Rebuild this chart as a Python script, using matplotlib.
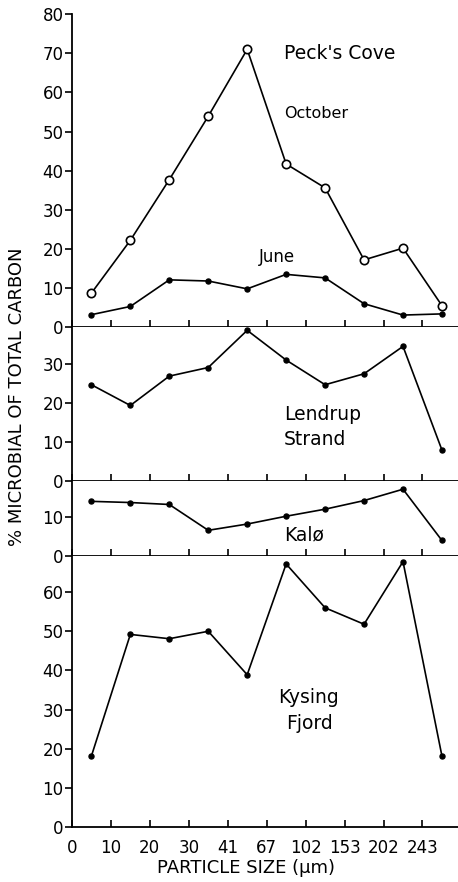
import matplotlib
matplotlib.use("Agg")
import matplotlib.pyplot as plt

# particle size classes (um), plotted at category midpoints
size_ticks = ["0", "10", "20", "30", "41", "67", "102", "153", "202", "243"]
xpos = [i + 0.5 for i in range(10)]

pecks_october = [8.7, 22.2, 37.7, 53.9, 71.0, 41.7, 35.6, 17.2, 20.2, 5.5]
pecks_june = [3.2, 5.3, 12.1, 11.8, 9.8, 13.5, 12.6, 6.0, 3.1, 3.4]
lendrup = [24.6, 19.3, 26.8, 29.0, 38.5, 30.9, 24.6, 27.4, 34.4, 7.9]
kalo = [14.0, 13.7, 13.2, 6.6, 8.2, 10.2, 12.0, 14.2, 17.1, 4.0]
kysing = [18.1, 49.2, 48.1, 50.0, 38.9, 67.2, 56.0, 51.8, 67.8, 18.1]

ylims = [80, 39.3, 19.2, 69.2]
yticks = [range(0, 81, 10), range(0, 31, 10), range(0, 11, 10), range(0, 61, 10)]

plt.rcParams['font.family'] = ['DejaVu Sans']
fig = plt.figure(figsize=(4.58, 8.82), dpi=100)
gs = fig.add_gridspec(4, 1, height_ratios=ylims, hspace=0,
                      left=0.157, right=0.999, bottom=0.0624, top=0.984)
axes = [fig.add_subplot(gs[i]) for i in range(4)]

for ax, top, yt in zip(axes, ylims, yticks):
    ax.set_xlim(0, 9.9)
    ax.set_ylim(0, top)
    ax.set_yticks(list(yt))
    ax.spines['top'].set_visible(False)
    ax.spines['right'].set_visible(False)
    for s in ['left', 'bottom']:
        ax.spines[s].set_linewidth(1.3)
    ax.set_xticks(range(10))
    ax.tick_params(axis='x', direction='in', length=5, width=1.2)
    ax.tick_params(axis='y', direction='out', length=5, width=1.2,
                   labelsize=12, pad=1)
    ax.set_xticklabels([])

dot = dict(color='black', lw=1.2, marker='o', markersize=3.6)

ax = axes[0]
ax.plot(xpos, pecks_october, color='black', lw=1.2, marker='o',
        markersize=6, markerfacecolor='white', markeredgewidth=1.2)
ax.plot(xpos, pecks_june, **dot)
ax.text(5.45, 70, "Peck's Cove", fontsize=13.5, va='center')
ax.text(5.45, 54.5, "October", fontsize=11.5, va='center')
ax.text(4.8, 18, "June", fontsize=12, va='center')

ax = axes[1]
ax.plot(xpos, lendrup, **dot)
ax.text(5.45, 17, "Lendrup", fontsize=13.5, va='center')
ax.text(5.45, 10.5, "Strand", fontsize=13.5, va='center')

ax = axes[2]
ax.plot(xpos, kalo, **dot)
ax.text(5.45, 5.5, "Kalø", fontsize=13.5, va='center')

ax = axes[3]
ax.plot(xpos, kysing, **dot)
ax.text(5.3, 33, "Kysing", fontsize=13.5, va='center')
ax.text(5.5, 26.5, "Fjord", fontsize=13.5, va='center')
ax.set_xticklabels(size_ticks, fontsize=12)
ax.tick_params(axis='x', pad=9)

fig.text(0.537, 0.016, "PARTICLE SIZE (μm)", fontsize=13,
         ha='center', va='center')
fig.text(0.037, 0.55, "% MICROBIAL OF TOTAL CARBON", rotation=90,
         fontsize=13, ha='center', va='center')

fig.savefig("out.png", dpi=100)
